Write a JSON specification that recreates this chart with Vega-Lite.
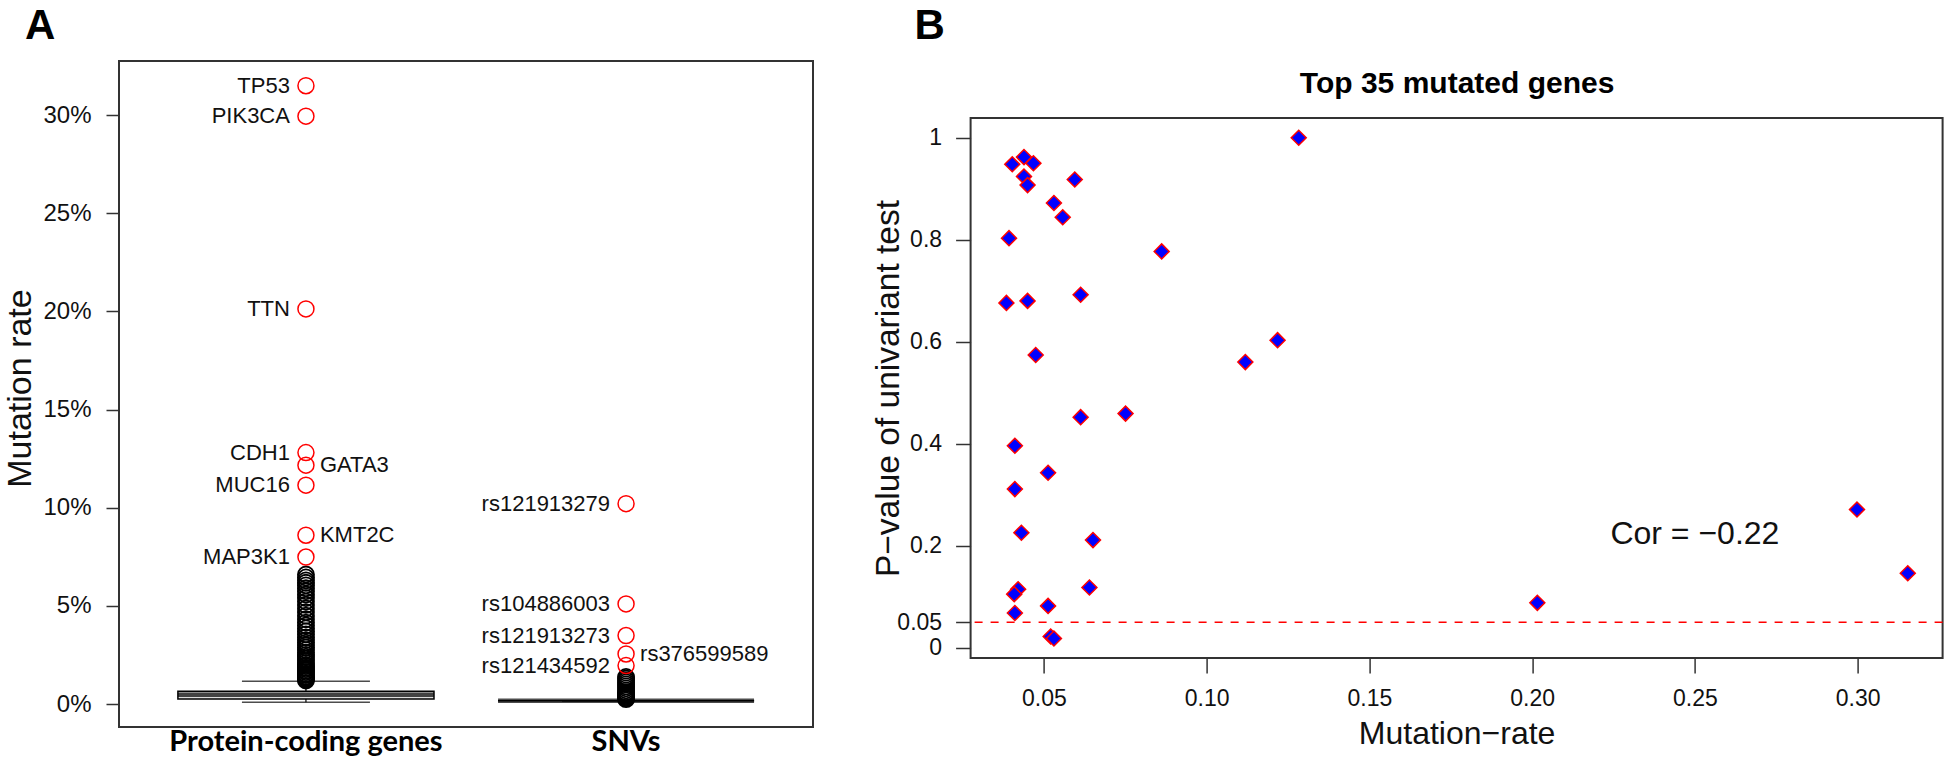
{
  "$schema": "https://vega.github.io/schema/vega-lite/v6.json",
  "padding": {"left": 2, "top": 3, "right": 0, "bottom": 0},
  "autosize": {"type": "pad"},
  "background": "white",
  "config": {
    "font": "Liberation Sans",
    "view": {"stroke": "#333333", "strokeWidth": 2},
    "axis": {"grid": false, "labelColor": "#111111", "titleColor": "#111111", "tickColor": "#333333", "tickWidth": 1.5, "labelFont": "Liberation Sans", "titleFont": "Liberation Sans", "titleFontWeight": "normal"},
    "title": {"font": "Liberation Sans", "color": "#000000"}
  },
  "datasets": {
    "box": [
      {"group": "Protein-coding genes", "lower": 0.0009, "q1": 0.0026, "median": 0.0047, "q3": 0.0065, "upper": 0.0116},
      {"group": "SNVs", "lower": 0.0017, "q1": 0.0017, "median": 0.0017, "q3": 0.0017, "upper": 0.0017}
    ],
    "outliers": [
      {"group": "Protein-coding genes", "rate": 0.0120}, {"group": "Protein-coding genes", "rate": 0.0125}, {"group": "Protein-coding genes", "rate": 0.0130},
      {"group": "Protein-coding genes", "rate": 0.0135}, {"group": "Protein-coding genes", "rate": 0.0140}, {"group": "Protein-coding genes", "rate": 0.0148},
      {"group": "Protein-coding genes", "rate": 0.0155}, {"group": "Protein-coding genes", "rate": 0.0163}, {"group": "Protein-coding genes", "rate": 0.0170},
      {"group": "Protein-coding genes", "rate": 0.0178}, {"group": "Protein-coding genes", "rate": 0.0185}, {"group": "Protein-coding genes", "rate": 0.0193},
      {"group": "Protein-coding genes", "rate": 0.0200}, {"group": "Protein-coding genes", "rate": 0.0210}, {"group": "Protein-coding genes", "rate": 0.0220},
      {"group": "Protein-coding genes", "rate": 0.0230}, {"group": "Protein-coding genes", "rate": 0.0240}, {"group": "Protein-coding genes", "rate": 0.0250},
      {"group": "Protein-coding genes", "rate": 0.0262}, {"group": "Protein-coding genes", "rate": 0.0275}, {"group": "Protein-coding genes", "rate": 0.0288},
      {"group": "Protein-coding genes", "rate": 0.0300}, {"group": "Protein-coding genes", "rate": 0.0313}, {"group": "Protein-coding genes", "rate": 0.0326},
      {"group": "Protein-coding genes", "rate": 0.0340}, {"group": "Protein-coding genes", "rate": 0.0355}, {"group": "Protein-coding genes", "rate": 0.0370},
      {"group": "Protein-coding genes", "rate": 0.0385}, {"group": "Protein-coding genes", "rate": 0.0400}, {"group": "Protein-coding genes", "rate": 0.0415},
      {"group": "Protein-coding genes", "rate": 0.0432}, {"group": "Protein-coding genes", "rate": 0.0450}, {"group": "Protein-coding genes", "rate": 0.0468},
      {"group": "Protein-coding genes", "rate": 0.0487}, {"group": "Protein-coding genes", "rate": 0.0505}, {"group": "Protein-coding genes", "rate": 0.0522},
      {"group": "Protein-coding genes", "rate": 0.0540}, {"group": "Protein-coding genes", "rate": 0.0558}, {"group": "Protein-coding genes", "rate": 0.0575},
      {"group": "Protein-coding genes", "rate": 0.0590}, {"group": "Protein-coding genes", "rate": 0.0605}, {"group": "Protein-coding genes", "rate": 0.0618},
      {"group": "Protein-coding genes", "rate": 0.0630}, {"group": "Protein-coding genes", "rate": 0.0645}, {"group": "Protein-coding genes", "rate": 0.0660},
      {"group": "SNVs", "rate": 0.0025}, {"group": "SNVs", "rate": 0.0030}, {"group": "SNVs", "rate": 0.0035}, {"group": "SNVs", "rate": 0.0040},
      {"group": "SNVs", "rate": 0.0045}, {"group": "SNVs", "rate": 0.0050}, {"group": "SNVs", "rate": 0.0055}, {"group": "SNVs", "rate": 0.0060},
      {"group": "SNVs", "rate": 0.0070}, {"group": "SNVs", "rate": 0.0080}, {"group": "SNVs", "rate": 0.0090}, {"group": "SNVs", "rate": 0.0100},
      {"group": "SNVs", "rate": 0.0110}, {"group": "SNVs", "rate": 0.0120}, {"group": "SNVs", "rate": 0.0130}, {"group": "SNVs", "rate": 0.0138}
    ],
    "top": [
      {"group": "Protein-coding genes", "name": "TP53", "rate": 0.315},
      {"group": "Protein-coding genes", "name": "PIK3CA", "rate": 0.2995},
      {"group": "Protein-coding genes", "name": "TTN", "rate": 0.2013},
      {"group": "Protein-coding genes", "name": "CDH1", "rate": 0.1281},
      {"group": "Protein-coding genes", "name": "GATA3", "rate": 0.1217},
      {"group": "Protein-coding genes", "name": "MUC16", "rate": 0.1115},
      {"group": "Protein-coding genes", "name": "KMT2C", "rate": 0.086},
      {"group": "Protein-coding genes", "name": "MAP3K1", "rate": 0.0749},
      {"group": "SNVs", "name": "rs121913279", "rate": 0.1021},
      {"group": "SNVs", "name": "rs104886003", "rate": 0.051},
      {"group": "SNVs", "name": "rs121913273", "rate": 0.0349},
      {"group": "SNVs", "name": "rs376599589", "rate": 0.0255},
      {"group": "SNVs", "name": "rs121434592", "rate": 0.0196}
    ],
    "genes35": [
      {"mr": 0.0403, "p": 0.948}, {"mr": 0.0439, "p": 0.962}, {"mr": 0.0468, "p": 0.950}, {"mr": 0.0439, "p": 0.924},
      {"mr": 0.0450, "p": 0.907}, {"mr": 0.0595, "p": 0.918}, {"mr": 0.0531, "p": 0.872}, {"mr": 0.0558, "p": 0.844},
      {"mr": 0.0393, "p": 0.803}, {"mr": 0.0862, "p": 0.777}, {"mr": 0.1283, "p": 1.0}, {"mr": 0.0385, "p": 0.676},
      {"mr": 0.0450, "p": 0.680}, {"mr": 0.0613, "p": 0.692}, {"mr": 0.0475, "p": 0.574}, {"mr": 0.1119, "p": 0.560},
      {"mr": 0.1218, "p": 0.603}, {"mr": 0.0613, "p": 0.452}, {"mr": 0.0751, "p": 0.459}, {"mr": 0.0411, "p": 0.396},
      {"mr": 0.0513, "p": 0.343}, {"mr": 0.0411, "p": 0.311}, {"mr": 0.0431, "p": 0.2255}, {"mr": 0.0651, "p": 0.211},
      {"mr": 0.0640, "p": 0.118}, {"mr": 0.0421, "p": 0.1145}, {"mr": 0.0409, "p": 0.105}, {"mr": 0.0513, "p": 0.082},
      {"mr": 0.0411, "p": 0.068}, {"mr": 0.0521, "p": 0.022}, {"mr": 0.0531, "p": 0.018}, {"mr": 0.2016, "p": 0.088},
      {"mr": 0.2998, "p": 0.271}, {"mr": 0.3154, "p": 0.146}
    ]
  },
  "columns": 2,
  "spacing": 55.6,
  "concat": [
    {
      "width": 694,
      "height": 666,
      "title": {"text": "A", "anchor": "start", "frame": "bounds", "fontSize": 42, "fontWeight": "bold", "baseline": "alphabetic", "offset": -19.5, "dx": 22},
      "encoding": {
        "x": {"field": "group", "type": "nominal", "scale": {"domain": ["Protein-coding genes", "SNVs"], "paddingInner": 0, "paddingOuter": 0.084},
              "axis": {"title": null, "labelFont": "Lato", "labelFontWeight": "bold", "labelFontSize": 29, "labelLimit": 0, "labelColor": "#000000", "ticks": false, "domain": false, "labelPadding": 0, "labelAngle": 0}},
        "y": {"type": "quantitative", "scale": {"domain": [-0.0117, 0.3276], "nice": false, "zero": false},
              "axis": {"values": [0, 0.05, 0.1, 0.15, 0.2, 0.25, 0.3], "format": ".0%", "tickSize": 13, "labelPadding": 15, "labelFontSize": 24, "domain": false,
                       "title": "Mutation rate", "titleFontSize": 34, "titleX": -89, "titleY": 327, "titleBaseline": "alphabetic"}}
      },
      "layer": [
        {"data": {"name": "box"}, "mark": {"type": "rule", "color": "black", "strokeWidth": 1.2, "strokeDash": [6, 4]},
         "encoding": {"y": {"field": "q3", "type": "quantitative"}, "y2": {"field": "upper"}}},
        {"data": {"name": "box"}, "mark": {"type": "rule", "color": "black", "strokeWidth": 1.2, "strokeDash": [6, 4]},
         "encoding": {"y": {"field": "lower", "type": "quantitative"}, "y2": {"field": "q1"}}},
        {"data": {"name": "box"}, "mark": {"type": "tick", "color": "black", "size": 128, "thickness": 1.5},
         "encoding": {"y": {"field": "upper", "type": "quantitative"}}},
        {"data": {"name": "box"}, "mark": {"type": "tick", "color": "black", "size": 128, "thickness": 1.5},
         "encoding": {"y": {"field": "lower", "type": "quantitative"}}},
        {"data": {"name": "box"}, "mark": {"type": "bar", "fill": "#dddddd", "stroke": "black", "strokeWidth": 1.5, "width": {"band": 0.8}},
         "encoding": {"y": {"field": "q1", "type": "quantitative"}, "y2": {"field": "q3"}}},
        {"data": {"name": "box"}, "mark": {"type": "tick", "color": "black", "size": 256, "thickness": 4.5},
         "encoding": {"y": {"field": "median", "type": "quantitative"}}},
        {"data": {"name": "outliers"}, "mark": {"type": "point", "shape": "circle", "filled": false, "stroke": "black", "strokeWidth": 1.8, "size": 256, "opacity": 1},
         "encoding": {"y": {"field": "rate", "type": "quantitative"}}},
        {"data": {"name": "top"}, "mark": {"type": "point", "shape": "circle", "filled": false, "stroke": "#ff0000", "strokeWidth": 1.5, "size": 256, "opacity": 1},
         "encoding": {"y": {"field": "rate", "type": "quantitative"}}},
        {"data": {"name": "top"}, "transform": [{"filter": {"not": {"field": "name", "oneOf": ["GATA3", "KMT2C", "rs376599589"]}}}],
         "mark": {"type": "text", "align": "right", "baseline": "middle", "dx": -16, "fontSize": 22, "color": "#111111"},
         "encoding": {"y": {"field": "rate", "type": "quantitative"}, "text": {"field": "name"}}},
        {"data": {"name": "top"}, "transform": [{"filter": {"field": "name", "oneOf": ["GATA3", "KMT2C", "rs376599589"]}}],
         "mark": {"type": "text", "align": "left", "baseline": "middle", "dx": 14, "fontSize": 22, "color": "#111111"},
         "encoding": {"y": {"field": "rate", "type": "quantitative"}, "text": {"field": "name"}}}
      ]
    },
    {"vconcat": [
    {
      "width": 972,
      "height": 1,
      "view": {"stroke": null},
      "title": {"text": "B", "anchor": "start", "frame": "group", "fontSize": 42, "fontWeight": "bold", "baseline": "alphabetic", "offset": -25.5, "dx": -56},
      "data": {"values": [{}]},
      "mark": {"type": "text", "text": " "}
    },
    {
      "width": 972,
      "height": 540,
      "layer": [
        {"data": {"name": "genes35"},
         "mark": {"type": "point", "shape": "diamond", "filled": true, "fill": "#0000ff", "stroke": "#ff0000", "strokeWidth": 1.5, "size": 225, "opacity": 1},
         "encoding": {
           "x": {"field": "mr", "type": "quantitative", "scale": {"domain": [0.0275, 0.3261], "nice": false, "zero": false},
                 "axis": {"values": [0.05, 0.1, 0.15, 0.2, 0.25, 0.3], "format": ".2f", "tickSize": 15, "labelPadding": 14.7, "labelFontSize": 23, "domain": false,
                          "title": "Mutation−rate", "titleFontSize": 32, "titleY": 85.7, "titleBaseline": "alphabetic"}},
           "y": {"field": "p", "type": "quantitative", "scale": {"domain": [-0.0202, 1.0386], "nice": false, "zero": false},
                 "axis": {"values": [0, 0.05, 0.2, 0.4, 0.6, 0.8, 1], "labelExpr": "'' + datum.value", "tickSize": 15, "labelPadding": 14, "labelFontSize": 23, "domain": false,
                          "title": "P−value of univariant test", "titleFontSize": 33.5, "titleX": -72.4, "titleBaseline": "alphabetic"}}
         }},
        {"data": {"values": [{}]},
         "mark": {"type": "rule", "color": "#ff0000", "strokeWidth": 1.5, "strokeDash": [8, 8]},
         "encoding": {"y": {"datum": 0.05, "type": "quantitative"}}},
        {"data": {"values": [{}]},
         "mark": {"type": "text", "text": "Cor = −0.22", "fontSize": 32, "align": "center", "baseline": "middle", "color": "#111111"},
         "encoding": {
           "x": {"datum": 0.25, "type": "quantitative", "axis": {"orient": "top", "labels": false, "ticks": false, "domain": false, "grid": false,
                 "title": "Top 35 mutated genes", "titleFontSize": 30, "titleFontWeight": "bold", "titleColor": "#000000", "titleBaseline": "alphabetic", "titleY": -26}},
           "y": {"datum": 0.2235, "type": "quantitative"}
         }}
      ],
      "resolve": {"axis": {"x": "independent"}}
    }], "spacing": 0}
  ]
}
